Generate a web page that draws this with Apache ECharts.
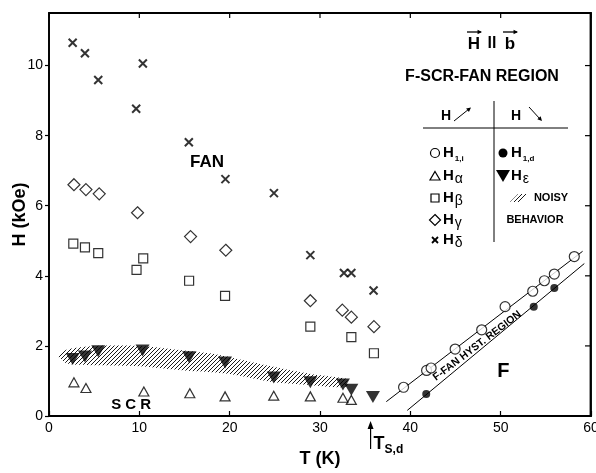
<!DOCTYPE html>
<html><head><meta charset="utf-8">
<script src="https://cdn.jsdelivr.net/npm/echarts@6/dist/echarts.min.js"></script>
<style>html,body{margin:0;padding:0;background:#fff;overflow:hidden}#c{width:100vw;height:100vh}</style>
</head><body><div id="c"></div>
<script>
// ---- data (T in K, H in kOe) ----
const xTicks = [0, 10, 20, 30, 40, 50, 60];
const yTicks = [0, 2, 4, 6, 8, 10];
const H1i = [[39.25,0.82],[41.8,1.3],[42.3,1.37],[44.96,1.91],[47.9,2.46],[50.49,3.12],[53.55,3.56],[54.84,3.86],[55.94,4.05],[58.15,4.55]];
const H1d = [[41.76,0.63],[53.66,3.12],[55.94,3.65]];
const Halpha = [[2.76,0.96],[4.09,0.8],[10.5,0.7],[15.59,0.65],[19.49,0.56],[24.88,0.58],[28.93,0.56],[32.54,0.52],[33.47,0.46]];
const Hbeta = [[2.69,4.92],[3.98,4.81],[5.45,4.65],[9.69,4.17],[10.43,4.5],[15.51,3.86],[19.49,3.43],[28.93,2.55],[33.47,2.25],[35.97,1.79]];
const Hgamma = [[2.76,6.6],[4.09,6.46],[5.56,6.34],[9.8,5.8],[15.67,5.12],[19.57,4.73],[28.93,3.29],[32.47,3.02],[33.47,2.82],[35.97,2.55]];
const Hdelta = [[2.62,10.65],[3.98,10.35],[5.45,9.59],[10.39,10.06],[9.65,8.77],[15.48,7.81],[19.53,6.76],[24.9,6.36],[28.93,4.59],[32.65,4.08],[33.47,4.08],[35.93,3.58]];
const Heps = [[2.62,1.63],[3.98,1.7],[5.45,1.85],[10.36,1.87],[15.51,1.68],[19.49,1.53],[24.88,1.1],[28.93,0.96],[32.54,0.9],[33.47,0.75],[35.86,0.54]];
const lineUpper = [[37.34,0.41],[59.07,4.7]];
const lineLower = [[39.66,0.16],[59.26,4.35]];
const bandTop = [[0.9,1.72],[2,1.9],[5,2.0],[10,2.0],[15,1.87],[18,1.78],[20,1.68],[25,1.4],[29,1.2],[32,1.1],[33,1.05]];
const bandBottom = [[33,0.85],[32,0.82],[29,0.88],[25,0.96],[20,1.2],[18,1.25],[15,1.3],[10,1.42],[5,1.45],[2,1.5],[0.9,1.72]];
const TSd = 35.6;

// hatch pattern
const pc = document.createElement('canvas'); pc.width = 4; pc.height = 4;
const pctx = pc.getContext('2d'); pctx.strokeStyle = '#000'; pctx.lineWidth = 0.9;
pctx.beginPath(); pctx.moveTo(0,4); pctx.lineTo(4,0); pctx.moveTo(-1,1); pctx.lineTo(1,-1); pctx.moveTo(3,5); pctx.lineTo(5,3); pctx.stroke();
const hatch = {image: pc, repeat: 'repeat'};

const FONT = 'Liberation Sans, Arial, Helvetica, sans-serif';
const chart = echarts.init(document.getElementById('c'));
const open = {color: 'rgba(0,0,0,0)', borderColor: '#000', borderWidth: 1.2};
const xPath = 'path://M0 0L10 10M10 0L0 10';
function sc(data, symbol, size, style, extra) {
  return Object.assign({type: 'scatter', data: data, symbol: symbol, symbolSize: size, itemStyle: style, z: 5, silent: true}, extra || {});
}
chart.setOption({
  animation: false,
  grid: {left: 49, right: 5, top: 13, bottom: 57, outerBoundsMode: 'none', show: true, borderColor: '#000', borderWidth: 1.8},
  xAxis: {type: 'value', min: 0, max: 60, interval: 10, splitLine: {show: false},
    name: 'T (K)', nameLocation: 'middle', nameGap: 34, nameMoveOverlap: false,
    nameTextStyle: {fontFamily: FONT, fontWeight: 'bold', fontSize: 18, color: '#000'},
    axisLine: {show: true, onZero: false, lineStyle: {color: '#000', width: 1.5}},
    axisTick: {inside: true, length: 5, lineStyle: {color: '#000', width: 1.2}},
    axisLabel: {fontFamily: FONT, fontSize: 14, color: '#000', margin: 5}},
  yAxis: {type: 'value', min: 0, max: 11.5, interval: 2, splitLine: {show: false},
    name: 'H (kOe)', nameLocation: 'middle', nameGap: 20, nameRotate: 90, nameMoveOverlap: false,
    nameTextStyle: {fontFamily: FONT, fontWeight: 'bold', fontSize: 18, color: '#000'},
    axisLine: {show: true, onZero: false, lineStyle: {color: '#000', width: 1.5}},
    axisTick: {inside: false, length: 4, lineStyle: {color: '#000', width: 1.2}},
    axisLabel: {fontFamily: FONT, fontSize: 14, color: '#000', margin: 6, showMaxLabel: false}},
  series: [
    {type: 'custom', silent: true, z: 1, data: [[0, 0]], renderItem: function (params, api) {
      const pts = bandTop.concat(bandBottom).map(p => api.coord(p));
      return {type: 'polygon', shape: {points: pts, smooth: 0.25}, style: {fill: hatch, stroke: null}};
    }},
    {type: 'line', data: lineUpper, symbol: 'none', silent: true, lineStyle: {color: '#000', width: 1}},
    {type: 'line', data: lineLower, symbol: 'none', silent: true, lineStyle: {color: '#000', width: 1}},
    sc(Hdelta, xPath, 8, {color: 'rgba(0,0,0,0)', borderColor: '#000', borderWidth: 2}),
    sc(Hgamma, 'diamond', [12, 12], open),
    sc(Hbeta, 'rect', [9, 9], open),
    sc(Halpha, 'triangle', [10, 9], open),
    sc(Heps, 'triangle', [14, 12], {color: '#000'}, {symbolRotate: 180}),
    sc(H1i, 'circle', 10, {color: '#fff', borderColor: '#000', borderWidth: 1.2}),
    sc(H1d, 'circle', 8, {color: '#000'})
  ]
});

// ---- annotations / legend table ----
const els = [];
function txt(x, y, s, size) {
  els.push({type: 'text', x: x, y: y, silent: true, z: 10,
    style: {text: s, fontFamily: FONT, fontWeight: 'bold', fontSize: size, fill: '#000', align: 'center', verticalAlign: 'middle'}});
}
function ln(x1, y1, x2, y2, w, zl) {
  els.push({type: 'line', silent: true, z: 10, zlevel: zl || 0, shape: {x1: x1, y1: y1, x2: x2, y2: y2}, style: {stroke: '#000', lineWidth: w || 1}});
}
function arrowHead(x, y, ang, len) {
  const a1 = ang + Math.PI * 0.85, a2 = ang - Math.PI * 0.85;
  els.push({type: 'polygon', silent: true, z: 10, shape: {points: [[x, y], [x + len * Math.cos(a1), y + len * Math.sin(a1)], [x + len * Math.cos(a2), y + len * Math.sin(a2)]]}, style: {fill: '#000'}});
}
// frame edges and ticks on the top and right, placed through the axes
const P = (x, y) => chart.convertToPixel({xAxisIndex: 0, yAxisIndex: 0}, [x, y]);
const c00 = P(0, 0), c11 = P(60, 11.5);
ln(c11[0] - 0.5, c00[1], c11[0] - 0.5, c11[1], 1.8, 1);
ln(c00[0], c11[1], c11[0], c11[1], 1.6, 1);
yTicks.forEach(v => { const p = P(60, v); ln(p[0] - 6, p[1], p[0], p[1], 1.2, 1); });
xTicks.forEach(v => { const p = P(v, 11.5); ln(p[0], p[1], p[0], p[1] + 5, 1.2, 1); });

// H || b
txt(474, 44, 'H', 17);
txt(492, 44, 'll', 16);
txt(510, 44, 'b', 17);
ln(467, 32, 481, 32, 1.3); arrowHead(482, 32, 0, 5);
ln(503, 32, 517, 32, 1.3); arrowHead(518, 32, 0, 5);
txt(482, 77, 'F-SCR-FAN REGION', 16);
// table header
txt(446, 116, 'H', 14);
ln(454, 121, 469, 109, 1); arrowHead(471, 107.5, Math.atan2(-12, 15), 5);
txt(516, 116, 'H', 14);
ln(529, 107, 540, 119, 1); arrowHead(542, 121, Math.atan2(12, 11), 5);
ln(423, 128, 568, 128, 1);
ln(494, 101, 494, 242, 1);
// rows
const rich = {h: {fontFamily: FONT, fontWeight: 'bold', fontSize: 15, lineHeight: 20, verticalAlign: 'middle'},
  s: {fontFamily: FONT, fontWeight: 'bold', fontSize: 8, lineHeight: 20, verticalAlign: 'bottom', padding: [0, 0, 0, 1]},
  g: {fontFamily: FONT, fontSize: 14, lineHeight: 20, verticalAlign: 'bottom', padding: [0, 0, 0, 1]}};
function rt(x, y, s) {
  els.push({type: 'text', x: x, y: y, silent: true, z: 10, style: {text: s, rich: rich, align: 'left', verticalAlign: 'middle', fill: '#000'}});
}
const rows = [153, 176, 198, 220, 240];
els.push({type: 'circle', silent: true, z: 10, shape: {cx: 435, cy: rows[0], r: 4.5}, style: {fill: 'none', stroke: '#000', lineWidth: 1.2}});
els.push({type: 'polygon', silent: true, z: 10, shape: {points: [[435, rows[1] - 4.5], [440, rows[1] + 4], [430, rows[1] + 4]]}, style: {fill: 'none', stroke: '#000', lineWidth: 1.2}});
els.push({type: 'rect', silent: true, z: 10, shape: {x: 431, y: rows[2] - 4, width: 8, height: 8}, style: {fill: 'none', stroke: '#000', lineWidth: 1.2}});
els.push({type: 'polygon', silent: true, z: 10, shape: {points: [[435, rows[3] - 5.5], [440.5, rows[3]], [435, rows[3] + 5.5], [429.5, rows[3]]]}, style: {fill: 'none', stroke: '#000', lineWidth: 1.2}});
ln(432, rows[4] - 3, 438, rows[4] + 3, 1.8); ln(438, rows[4] - 3, 432, rows[4] + 3, 1.8);
rt(443, rows[0], '{h|H}{s|1,i}');
rt(443, rows[1], '{h|H}{g|α}');
rt(443, rows[2], '{h|H}{g|β}');
rt(443, rows[3], '{h|H}{g|γ}');
rt(443, rows[4], '{h|H}{g|δ}');
els.push({type: 'circle', silent: true, z: 10, shape: {cx: 503, cy: rows[0], r: 4.5}, style: {fill: '#000'}});
els.push({type: 'polygon', silent: true, z: 10, shape: {points: [[496, rows[1] - 6], [510, rows[1] - 6], [503, rows[1] + 6]]}, style: {fill: '#000'}});
rt(511, rows[0], '{h|H}{s|1,d}');
rt(511, rows[1], '{h|H}{g|ε}');
els.push({type: 'polygon', silent: true, z: 10, shape: {points: [[510, rows[2] + 4], [518, rows[2] - 4], [527, rows[2] - 4], [519, rows[2] + 4]]}, style: {fill: hatch}});
txt(551, rows[2], 'NOISY', 11);
txt(535, rows[3], 'BEHAVIOR', 11);

// region labels placed through the axes
function t2(p, s, size, rot) {
  els.push({type: 'text', x: p[0], y: p[1], rotation: rot || 0, silent: true, z: 10,
    style: {text: s, fontFamily: FONT, fontWeight: 'bold', fontSize: size, fill: '#000', align: 'center', verticalAlign: 'middle'}});
}
t2(P(17.5, 7.25), 'FAN', 17);
t2(P(9.1, 0.33), 'S C R', 15);
t2(P(50.3, 1.27), 'F', 20);
t2(P(47.4, 2.0), 'F-FAN HYST. REGION', 10.5, 37.4 * Math.PI / 180);
const pa = P(TSd, 0);
els.push({type: 'line', silent: true, z: 10, shape: {x1: pa[0], y1: pa[1] + 33, x2: pa[0], y2: pa[1] + 9}, style: {stroke: '#000', lineWidth: 1.2}});
els.push({type: 'polygon', silent: true, z: 10, shape: {points: [[pa[0], pa[1] + 5], [pa[0] - 3, pa[1] + 13], [pa[0] + 3, pa[1] + 13]]}, style: {fill: '#000'}});
els.push({type: 'text', x: pa[0] + 3, y: pa[1] + 28, silent: true, z: 10,
  style: {text: '{t|T}{s|S,d}', align: 'left', verticalAlign: 'middle', fill: '#000',
    rich: {t: {fontFamily: FONT, fontWeight: 'bold', fontSize: 18, lineHeight: 24, verticalAlign: 'middle'},
           s: {fontFamily: FONT, fontWeight: 'bold', fontSize: 12, lineHeight: 24, verticalAlign: 'bottom'}}}});
chart.setOption({graphic: els});
</script></body></html>
